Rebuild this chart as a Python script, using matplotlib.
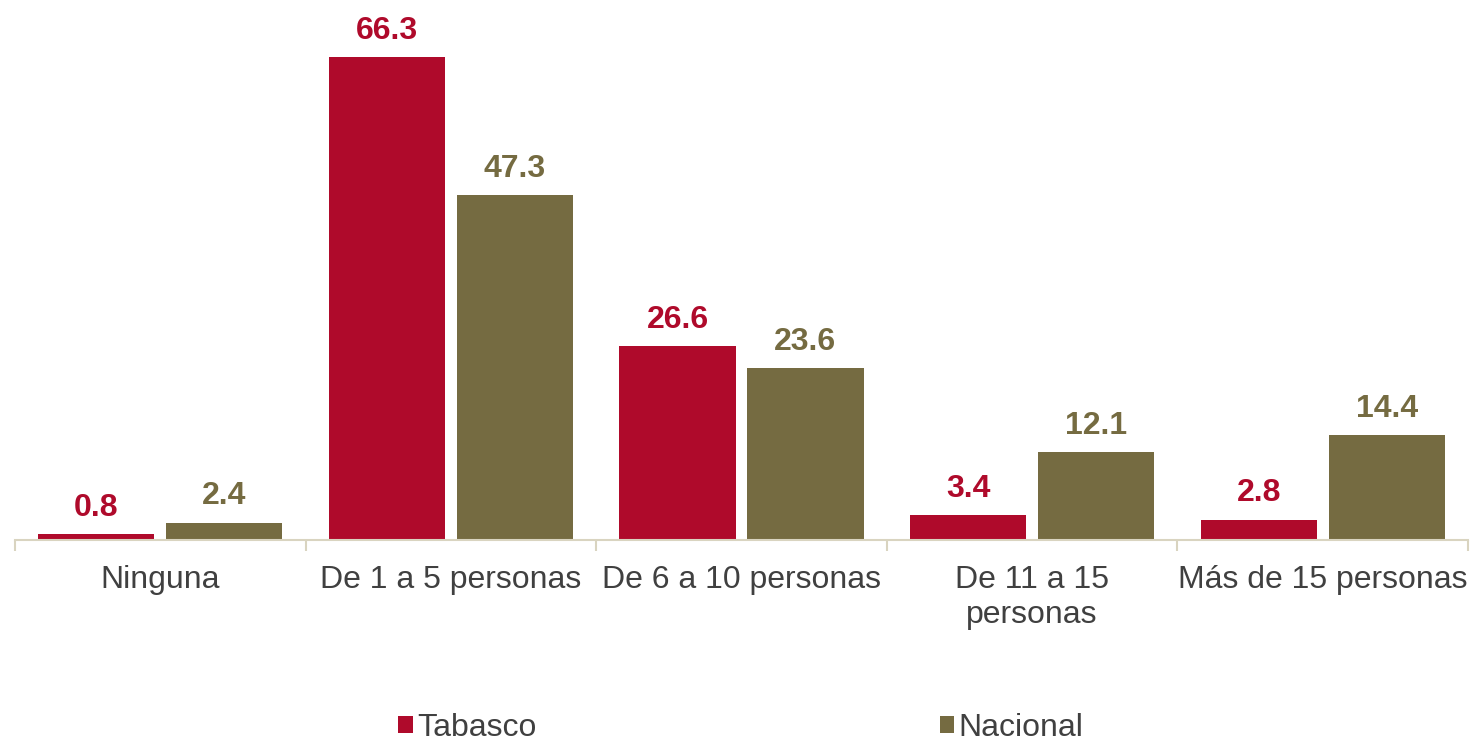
import matplotlib.pyplot as plt
import numpy as np

categorias = ["Ninguna", "De 1 a 5 personas", "De 6 a 10 personas",
              "De 11 a 15\npersonas", "Más de 15 personas"]
tabasco = [0.8, 66.3, 26.6, 3.4, 2.8]
nacional = [2.4, 47.3, 23.6, 12.1, 14.4]

color_tab = "#AF0A2B"
color_nac = "#756B41"
gris = "#404040"
eje = "#D9D4C0"

plt.rcParams['font.family'] = ['Liberation Sans', 'DejaVu Sans']

fig = plt.figure(figsize=(14.73, 7.46), dpi=100)
ax = fig.add_axes([15 / 1473, 1 - 540 / 746, 1453 / 1473, 540 / 746])

x = np.arange(len(categorias))
ancho = 0.4
b1 = ax.bar(x - 0.22, tabasco, ancho, color=color_tab, label="Tabasco")
b2 = ax.bar(x + 0.22, nacional, ancho, color=color_nac, label="Nacional")

ax.bar_label(b1, fmt="%.1f", padding=8, color=color_tab, fontsize=23, fontweight="bold")
ax.bar_label(b2, fmt="%.1f", padding=8, color=color_nac, fontsize=23, fontweight="bold")

ax.set_xlim(-0.5, len(categorias) - 0.5)
ax.set_ylim(0, 74.1)

# etiquetas centradas, marcas entre categorias
ax.set_xticks(x)
ax.set_xticklabels(categorias, fontsize=23, color=gris, linespacing=1.2)
ax.tick_params(axis="x", which="major", length=0, pad=18)
ax.set_xticks(np.arange(-0.5, len(categorias)), minor=True)
ax.tick_params(axis="x", which="minor", length=8, width=1.5, color=eje)

ax.set_yticks([])
for lado in ["top", "right", "left"]:
    ax.spines[lado].set_visible(False)
ax.spines["bottom"].set_color(eje)
ax.spines["bottom"].set_linewidth(1.5)

fig.legend(handles=[b1, b2], loc="center", bbox_to_anchor=(741 / 1473, 1 - 728 / 746),
           ncol=2, frameon=False, fontsize=23, labelcolor=gris,
           handlelength=0.45, handleheight=0.45, handletextpad=0.15,
           columnspacing=12.6, borderpad=0.1)

fig.savefig("out.png", dpi=100)
